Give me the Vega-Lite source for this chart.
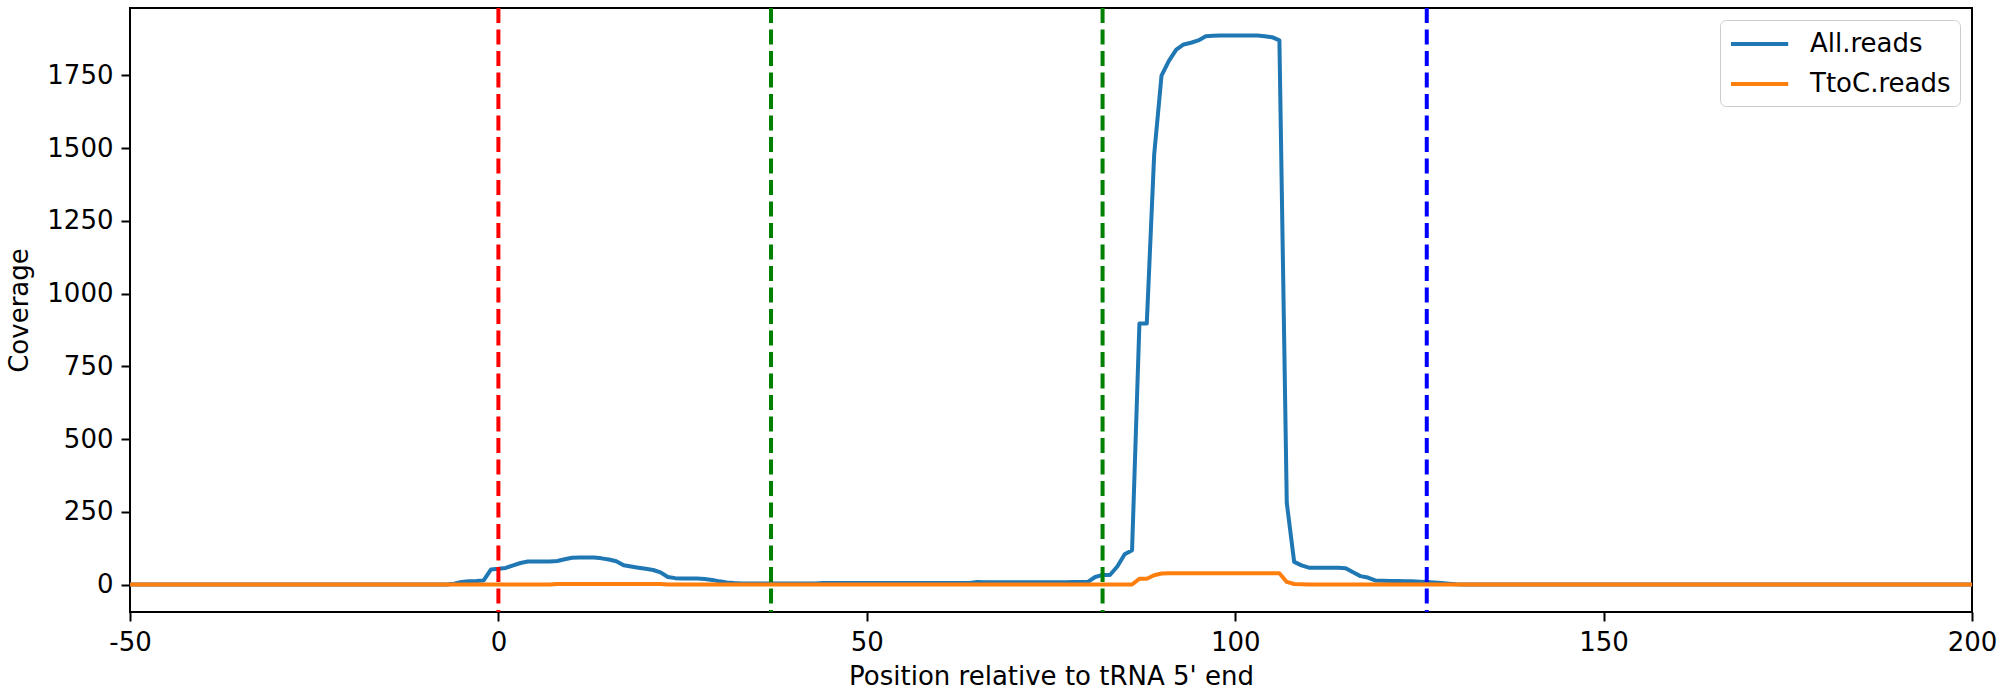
{
"$schema": "https://vega.github.io/schema/vega-lite/v6.json",
"width": 1842, "height": 604,
"autosize": {"type": "none"},
"padding": {"left": 130, "top": 8, "right": 32, "bottom": 84},
"background": "white",
"config": {
  "font": "DejaVu Sans",
  "view": {"stroke": "#000", "strokeWidth": 2},
  "axis": {"grid": false, "domain": false, "tickColor": "#000", "tickWidth": 2, "tickSize": 9, "labelFontSize": 26, "labelColor": "#000", "titleFontSize": 26, "titleFontWeight": "normal", "titleColor": "#000", "labelPadding": 8, "labelFlush": false}
},
"datasets": {
"cov": [
{"pos":-50,"All":0,"TtoC":0},{"pos":-49,"All":0,"TtoC":0},{"pos":-48,"All":0,"TtoC":0},{"pos":-47,"All":0,"TtoC":0},{"pos":-46,"All":0,"TtoC":0},
{"pos":-45,"All":0,"TtoC":0},{"pos":-44,"All":0,"TtoC":0},{"pos":-43,"All":0,"TtoC":0},{"pos":-42,"All":0,"TtoC":0},{"pos":-41,"All":0,"TtoC":0},
{"pos":-40,"All":0,"TtoC":0},{"pos":-39,"All":0,"TtoC":0},{"pos":-38,"All":0,"TtoC":0},{"pos":-37,"All":0,"TtoC":0},{"pos":-36,"All":0,"TtoC":0},
{"pos":-35,"All":0,"TtoC":0},{"pos":-34,"All":0,"TtoC":0},{"pos":-33,"All":0,"TtoC":0},{"pos":-32,"All":0,"TtoC":0},{"pos":-31,"All":0,"TtoC":0},
{"pos":-30,"All":0,"TtoC":0},{"pos":-29,"All":0,"TtoC":0},{"pos":-28,"All":0,"TtoC":0},{"pos":-27,"All":0,"TtoC":0},{"pos":-26,"All":0,"TtoC":0},
{"pos":-25,"All":0,"TtoC":0},{"pos":-24,"All":0,"TtoC":0},{"pos":-23,"All":0,"TtoC":0},{"pos":-22,"All":0,"TtoC":0},{"pos":-21,"All":0,"TtoC":0},
{"pos":-20,"All":0,"TtoC":0},{"pos":-19,"All":0,"TtoC":0},{"pos":-18,"All":0,"TtoC":0},{"pos":-17,"All":0,"TtoC":0},{"pos":-16,"All":0,"TtoC":0},
{"pos":-15,"All":0,"TtoC":0},{"pos":-14,"All":0,"TtoC":0},{"pos":-13,"All":0,"TtoC":0},{"pos":-12,"All":0,"TtoC":0},{"pos":-11,"All":0,"TtoC":0},
{"pos":-10,"All":0,"TtoC":0},{"pos":-9,"All":0,"TtoC":0},{"pos":-8,"All":0,"TtoC":0},{"pos":-7,"All":0,"TtoC":0},{"pos":-6,"All":3,"TtoC":0},
{"pos":-5,"All":9,"TtoC":0},{"pos":-4,"All":11,"TtoC":0},{"pos":-3,"All":12,"TtoC":0},{"pos":-2,"All":14,"TtoC":0},{"pos":-1,"All":52,"TtoC":0},
{"pos":0,"All":54,"TtoC":0},{"pos":1,"All":57,"TtoC":0},{"pos":2,"All":66,"TtoC":0},{"pos":3,"All":74,"TtoC":0},{"pos":4,"All":79,"TtoC":0},
{"pos":5,"All":79,"TtoC":0},{"pos":6,"All":79,"TtoC":0},{"pos":7,"All":79,"TtoC":0},{"pos":8,"All":81,"TtoC":2},{"pos":9,"All":87,"TtoC":2},
{"pos":10,"All":92,"TtoC":2},{"pos":11,"All":93,"TtoC":2},{"pos":12,"All":93,"TtoC":2},{"pos":13,"All":93,"TtoC":2},{"pos":14,"All":90,"TtoC":2},
{"pos":15,"All":86,"TtoC":2},{"pos":16,"All":80,"TtoC":2},{"pos":17,"All":66,"TtoC":2},{"pos":18,"All":62,"TtoC":2},{"pos":19,"All":58,"TtoC":2},
{"pos":20,"All":54,"TtoC":2},{"pos":21,"All":50,"TtoC":2},{"pos":22,"All":42,"TtoC":2},{"pos":23,"All":26,"TtoC":0},{"pos":24,"All":22,"TtoC":0},
{"pos":25,"All":21,"TtoC":0},{"pos":26,"All":21,"TtoC":0},{"pos":27,"All":21,"TtoC":0},{"pos":28,"All":19,"TtoC":0},{"pos":29,"All":16,"TtoC":0},
{"pos":30,"All":11,"TtoC":0},{"pos":31,"All":7,"TtoC":0},{"pos":32,"All":5,"TtoC":0},{"pos":33,"All":4,"TtoC":0},{"pos":34,"All":4,"TtoC":0},
{"pos":35,"All":4,"TtoC":0},{"pos":36,"All":4,"TtoC":0},{"pos":37,"All":4,"TtoC":0},{"pos":38,"All":4,"TtoC":0},{"pos":39,"All":4,"TtoC":0},
{"pos":40,"All":4,"TtoC":0},{"pos":41,"All":4,"TtoC":0},{"pos":42,"All":4,"TtoC":0},{"pos":43,"All":4,"TtoC":0},{"pos":44,"All":5,"TtoC":0},
{"pos":45,"All":5,"TtoC":0},{"pos":46,"All":5,"TtoC":0},{"pos":47,"All":5,"TtoC":0},{"pos":48,"All":5,"TtoC":0},{"pos":49,"All":5,"TtoC":0},
{"pos":50,"All":5,"TtoC":0},{"pos":51,"All":5,"TtoC":0},{"pos":52,"All":5,"TtoC":0},{"pos":53,"All":5,"TtoC":0},{"pos":54,"All":5,"TtoC":0},
{"pos":55,"All":5,"TtoC":0},{"pos":56,"All":5,"TtoC":0},{"pos":57,"All":5,"TtoC":0},{"pos":58,"All":5,"TtoC":0},{"pos":59,"All":5,"TtoC":0},
{"pos":60,"All":5,"TtoC":0},{"pos":61,"All":5,"TtoC":0},{"pos":62,"All":5,"TtoC":0},{"pos":63,"All":5,"TtoC":0},{"pos":64,"All":5,"TtoC":0},
{"pos":65,"All":9,"TtoC":0},{"pos":66,"All":8,"TtoC":0},{"pos":67,"All":8,"TtoC":0},{"pos":68,"All":8,"TtoC":0},{"pos":69,"All":8,"TtoC":0},
{"pos":70,"All":8,"TtoC":0},{"pos":71,"All":8,"TtoC":0},{"pos":72,"All":8,"TtoC":0},{"pos":73,"All":8,"TtoC":0},{"pos":74,"All":8,"TtoC":0},
{"pos":75,"All":8,"TtoC":0},{"pos":76,"All":8,"TtoC":0},{"pos":77,"All":8,"TtoC":0},{"pos":78,"All":9,"TtoC":0},{"pos":79,"All":9,"TtoC":0},
{"pos":80,"All":9,"TtoC":0},{"pos":81,"All":26,"TtoC":0},{"pos":82,"All":33,"TtoC":0},{"pos":83,"All":33,"TtoC":0},{"pos":84,"All":62,"TtoC":0},
{"pos":85,"All":104,"TtoC":0},{"pos":86,"All":118,"TtoC":0},{"pos":87,"All":897,"TtoC":20},{"pos":88,"All":897,"TtoC":20},{"pos":89,"All":1476,"TtoC":32},
{"pos":90,"All":1749,"TtoC":38},{"pos":91,"All":1800,"TtoC":39},{"pos":92,"All":1838,"TtoC":39},{"pos":93,"All":1856,"TtoC":39},{"pos":94,"All":1862,"TtoC":39},
{"pos":95,"All":1870,"TtoC":39},{"pos":96,"All":1884,"TtoC":39},{"pos":97,"All":1886,"TtoC":39},{"pos":98,"All":1887,"TtoC":39},{"pos":99,"All":1887,"TtoC":39},
{"pos":100,"All":1887,"TtoC":39},{"pos":101,"All":1887,"TtoC":39},{"pos":102,"All":1887,"TtoC":39},{"pos":103,"All":1887,"TtoC":39},{"pos":104,"All":1884,"TtoC":39},
{"pos":105,"All":1881,"TtoC":39},{"pos":106,"All":1870,"TtoC":39},{"pos":107,"All":281,"TtoC":9},{"pos":108,"All":78,"TtoC":2},{"pos":109,"All":66,"TtoC":1},
{"pos":110,"All":58,"TtoC":0},{"pos":111,"All":58,"TtoC":0},{"pos":112,"All":58,"TtoC":0},{"pos":113,"All":58,"TtoC":0},{"pos":114,"All":58,"TtoC":0},
{"pos":115,"All":56,"TtoC":0},{"pos":116,"All":42,"TtoC":0},{"pos":117,"All":29,"TtoC":0},{"pos":118,"All":24,"TtoC":0},{"pos":119,"All":14,"TtoC":0},
{"pos":120,"All":13,"TtoC":0},{"pos":121,"All":12,"TtoC":0},{"pos":122,"All":12,"TtoC":0},{"pos":123,"All":11,"TtoC":0},{"pos":124,"All":11,"TtoC":0},
{"pos":125,"All":10,"TtoC":0},{"pos":126,"All":9,"TtoC":0},{"pos":127,"All":7,"TtoC":0},{"pos":128,"All":5,"TtoC":0},{"pos":129,"All":3,"TtoC":0},
{"pos":130,"All":1,"TtoC":0},{"pos":131,"All":0,"TtoC":0},{"pos":132,"All":0,"TtoC":0},{"pos":133,"All":0,"TtoC":0},{"pos":134,"All":0,"TtoC":0},
{"pos":135,"All":0,"TtoC":0},{"pos":136,"All":0,"TtoC":0},{"pos":137,"All":0,"TtoC":0},{"pos":138,"All":0,"TtoC":0},{"pos":139,"All":0,"TtoC":0},
{"pos":140,"All":0,"TtoC":0},{"pos":141,"All":0,"TtoC":0},{"pos":142,"All":0,"TtoC":0},{"pos":143,"All":0,"TtoC":0},{"pos":144,"All":0,"TtoC":0},
{"pos":145,"All":0,"TtoC":0},{"pos":146,"All":0,"TtoC":0},{"pos":147,"All":0,"TtoC":0},{"pos":148,"All":0,"TtoC":0},{"pos":149,"All":0,"TtoC":0},
{"pos":150,"All":0,"TtoC":0},{"pos":151,"All":0,"TtoC":0},{"pos":152,"All":0,"TtoC":0},{"pos":153,"All":0,"TtoC":0},{"pos":154,"All":0,"TtoC":0},
{"pos":155,"All":0,"TtoC":0},{"pos":156,"All":0,"TtoC":0},{"pos":157,"All":0,"TtoC":0},{"pos":158,"All":0,"TtoC":0},{"pos":159,"All":0,"TtoC":0},
{"pos":160,"All":0,"TtoC":0},{"pos":161,"All":0,"TtoC":0},{"pos":162,"All":0,"TtoC":0},{"pos":163,"All":0,"TtoC":0},{"pos":164,"All":0,"TtoC":0},
{"pos":165,"All":0,"TtoC":0},{"pos":166,"All":0,"TtoC":0},{"pos":167,"All":0,"TtoC":0},{"pos":168,"All":0,"TtoC":0},{"pos":169,"All":0,"TtoC":0},
{"pos":170,"All":0,"TtoC":0},{"pos":171,"All":0,"TtoC":0},{"pos":172,"All":0,"TtoC":0},{"pos":173,"All":0,"TtoC":0},{"pos":174,"All":0,"TtoC":0},
{"pos":175,"All":0,"TtoC":0},{"pos":176,"All":0,"TtoC":0},{"pos":177,"All":0,"TtoC":0},{"pos":178,"All":0,"TtoC":0},{"pos":179,"All":0,"TtoC":0},
{"pos":180,"All":0,"TtoC":0},{"pos":181,"All":0,"TtoC":0},{"pos":182,"All":0,"TtoC":0},{"pos":183,"All":0,"TtoC":0},{"pos":184,"All":0,"TtoC":0},
{"pos":185,"All":0,"TtoC":0},{"pos":186,"All":0,"TtoC":0},{"pos":187,"All":0,"TtoC":0},{"pos":188,"All":0,"TtoC":0},{"pos":189,"All":0,"TtoC":0},
{"pos":190,"All":0,"TtoC":0},{"pos":191,"All":0,"TtoC":0},{"pos":192,"All":0,"TtoC":0},{"pos":193,"All":0,"TtoC":0},{"pos":194,"All":0,"TtoC":0},
{"pos":195,"All":0,"TtoC":0},{"pos":196,"All":0,"TtoC":0},{"pos":197,"All":0,"TtoC":0},{"pos":198,"All":0,"TtoC":0},{"pos":199,"All":0,"TtoC":0},
{"pos":200,"All":0,"TtoC":0}
],
"markers": [
{"pos":0,"kind":"5' end"},{"pos":37,"kind":"feature A"},{"pos":82,"kind":"feature B"},{"pos":126,"kind":"3' end"}
]
},
"layer": [
{
  "data": {"name": "cov"},
  "transform": [{"fold": ["All", "TtoC"], "as": ["series", "coverage"]}],
  "mark": {"type": "line", "strokeWidth": 4, "strokeJoin": "round"},
  "encoding": {
    "x": {"field": "pos", "type": "quantitative",
          "scale": {"domain": [-50, 200], "nice": false, "zero": false},
          "axis": {"values": [-50, 0, 50, 100, 150, 200], "labelExpr": "'' + datum.value", "title": "Position relative to tRNA 5' end", "titlePadding": 8}},
    "y": {"field": "coverage", "type": "quantitative",
          "scale": {"domain": [-94.35, 1981.35], "nice": false, "zero": false},
          "axis": {"values": [0, 250, 500, 750, 1000, 1250, 1500, 1750], "format": "d", "title": "Coverage", "titlePadding": 14}},
    "color": {"field": "series", "type": "nominal",
              "scale": {"domain": ["All", "TtoC"], "range": ["#1f77b4", "#ff7f0e"]},
              "legend": {"title": null, "orient": "top-right", "offset": 12, "labelFontSize": 26, "labelColor": "#000",
                         "labelExpr": "datum.label == 'All' ? 'All.reads' : 'TtoC.reads'",
                         "symbolType": "M-1,0H3.4", "symbolSize": 676, "symbolStrokeWidth": 4,
                         "labelOffset": 51, "padding": 9, "rowPadding": 12,
                         "strokeColor": "#cccccc", "cornerRadius": 6, "fillColor": "rgba(255,255,255,0.8)"}}
  }
},
{
  "data": {"name": "markers"},
  "mark": {"type": "rule", "strokeWidth": 4, "strokeDash": [15, 6.5]},
  "encoding": {
    "x": {"field": "pos", "type": "quantitative"},
    "stroke": {"field": "kind", "type": "nominal",
               "scale": {"domain": ["5' end", "feature A", "feature B", "3' end"], "range": ["red", "green", "green", "blue"]},
               "legend": null}
  }
}
]
}
